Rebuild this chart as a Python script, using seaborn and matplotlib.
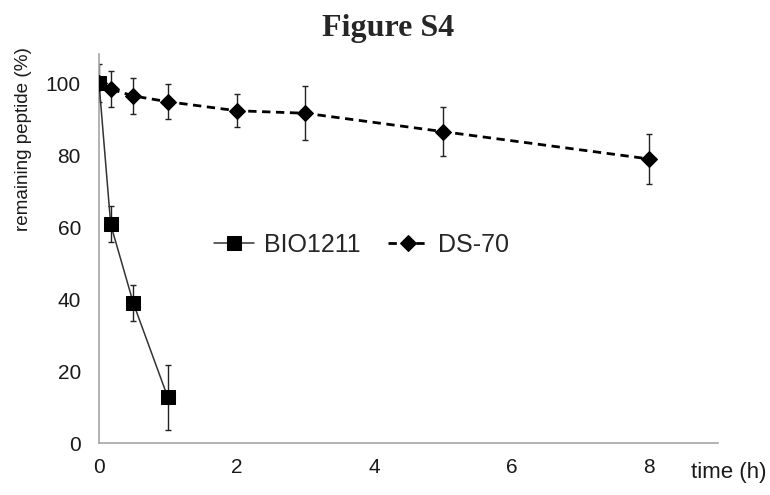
import matplotlib
matplotlib.use("Agg")
import matplotlib.pyplot as plt
import seaborn as sns
import pandas as pd

# data
bio_time = [0, 0.17, 0.5, 1]
bio_remaining = [100, 60.7, 38.8, 12.7]
bio_err = [5.3, 5.0, 5.0, 9.1]

ds_time = [0, 0.17, 0.5, 1, 2, 3, 5, 8]
ds_remaining = [100, 98.3, 96.4, 94.8, 92.3, 91.6, 86.5, 78.9]
ds_err = [0, 4.9, 4.9, 4.8, 4.6, 7.5, 6.9, 6.9]

sns.set_style("white")
plt.rcParams['font.family'] = ['Liberation Sans', 'DejaVu Sans']

df = pd.concat([
    pd.DataFrame({'time': bio_time, 'remaining': bio_remaining, 'peptide': 'BIO1211'}),
    pd.DataFrame({'time': ds_time, 'remaining': ds_remaining, 'peptide': 'DS-70'}),
])

fig = plt.figure(figsize=(7.7, 4.95), dpi=100)
ax = fig.add_axes([0.1286, 0.105, 0.8039, 0.7855])

# error bars first so the markers sit on top
ax.errorbar(ds_time, ds_remaining, yerr=ds_err, fmt='none', ecolor='#222222',
            elinewidth=1, capsize=2.5, capthick=1, zorder=2)
ax.errorbar(bio_time, bio_remaining, yerr=bio_err, fmt='none', ecolor='#222222',
            elinewidth=1, capsize=2.5, capthick=1, zorder=2)

sns.lineplot(data=df, x='time', y='remaining', style='peptide', hue='peptide',
             palette={'BIO1211': '#333333', 'DS-70': 'black'},
             markers={'BIO1211': 's', 'DS-70': 'D'},
             dashes={'BIO1211': '', 'DS-70': (3, 2)},
             ax=ax, zorder=3, legend=False)

lines = ax.get_lines()
for ln in lines:
    if ln.get_marker() == 's':
        ln.set_linewidth(1.1)
        ln.set_markersize(10)
        ln.set_markerfacecolor('black')
        ln.set_markeredgecolor('black')
    elif ln.get_marker() == 'D':
        ln.set_linewidth(2)
        ln.set_markersize(8)
        ln.set_markerfacecolor('black')
        ln.set_markeredgecolor('black')

ax.set_xlim(0, 9)
ax.set_ylim(0, 108)
ax.set_xticks([0, 2, 4, 6, 8])
ax.set_yticks([0, 20, 40, 60, 80, 100])
ax.set_xlabel('')
ax.set_ylabel('')

for side in ['top', 'right']:
    ax.spines[side].set_visible(False)
for side in ['left', 'bottom']:
    ax.spines[side].set_color('#a6a6a6')
    ax.spines[side].set_linewidth(1.2)
ax.tick_params(axis='both', direction='out', length=5, width=1, color='#a6a6a6',
               labelsize=15, labelcolor='#1a1a1a')
ax.tick_params(axis='y', pad=8)
ax.tick_params(axis='x', pad=6)

fig.text(0.995, 0.025, 'time (h)', ha='right', va='bottom', fontsize=16, color='#1a1a1a')
fig.text(0.031, 0.72, 'remaining peptide (%)', rotation=90, ha='center', va='center',
         fontsize=13.6, color='#1a1a1a')
fig.text(0.504, 0.942, 'Figure S4', ha='center', va='center', fontsize=23,
         fontweight='bold', family=['Liberation Serif', 'DejaVu Serif'])

handles = [ln for ln in lines if ln.get_marker() in ('s', 'D')]
ax.legend(handles, ['BIO1211', 'DS-70'], loc='center', ncol=2, frameon=False,
          bbox_to_anchor=(0.469, 0.505), bbox_transform=fig.transFigure,
          fontsize=18, handlelength=1.6, columnspacing=1.1, handletextpad=0.4)

fig.savefig('out.png', dpi=100)
